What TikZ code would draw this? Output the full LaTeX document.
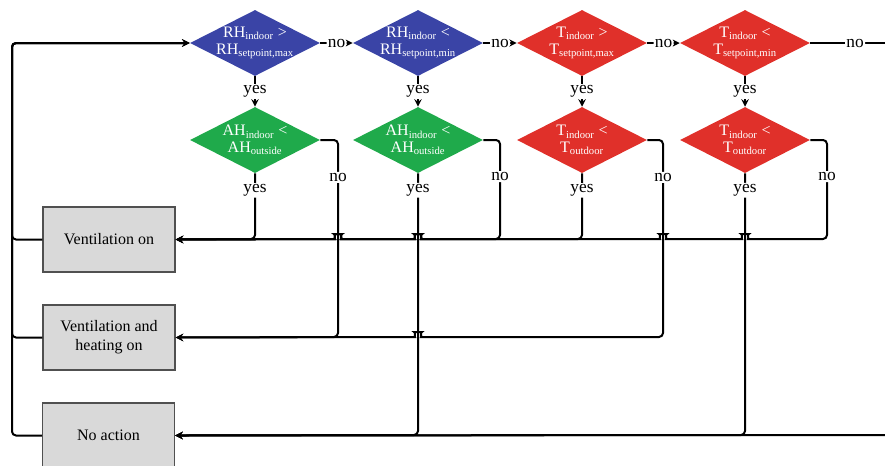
\documentclass[tikz,border=0pt]{standalone}
\usepackage{fontspec}
\setmainfont{Liberation Serif}
\usetikzlibrary{shapes.geometric}
\definecolor{rhblue}{HTML}{3A44A6}
\definecolor{tred}{HTML}{E0302A}
\definecolor{ahgreen}{HTML}{1FAA4B}
\definecolor{boxgray}{HTML}{D9D9D9}
\definecolor{boxline}{HTML}{505050}

\tikzset{
  check/.style={diamond,aspect=1.97,inner sep=-2pt,minimum width=97.5pt,minimum height=49.5pt,
    fill=#1,text=white,align=center,font=\fontsize{12}{12.5}\selectfont},
  actbox/.style={rectangle,draw=boxline,fill=boxgray,line width=1pt,minimum width=99pt,
    minimum height=48.75pt,align=center,font=\fontsize{12}{14}\selectfont},
  flow/.style={line width=1.5pt,rounded corners=3pt},
  lbl/.style={fill=white,inner sep=1pt,font=\fontsize{13}{14}\selectfont}
}
% bump of a line passing over a vertical one at x=#1, y=#2
\newcommand{\hopover}[2]{-- (#1+7,#2) .. controls (#1+4,#2) and (#1+2,#2-5) .. (#1,#2-5)
  .. controls (#1-2,#2-5) and (#1-4,#2) .. (#1-7,#2)}

\begin{document}
\begin{tikzpicture}[x=0.75pt,y=-0.75pt,>=stealth]
  \useasboundingbox (0,0) rectangle (885,465);
  % first row: setpoint checks
  \node[check=rhblue] (rhmax) at (255,43) {RH\textsubscript{indoor} >\\RH\textsubscript{setpoint,max}};
  \node[check=rhblue] (rhmin) at (418,43) {RH\textsubscript{indoor} <\\RH\textsubscript{setpoint,min}};
  \node[check=tred] (tmax) at (582,43) {T\textsubscript{indoor} >\\T\textsubscript{setpoint,max}};
  \node[check=tred] (tmin) at (745,43) {T\textsubscript{indoor} <\\T\textsubscript{setpoint,min}};
  % second row: indoor vs outside
  \node[check=ahgreen] (ahmax) at (255,140) {AH\textsubscript{indoor} <\\AH\textsubscript{outside}};
  \node[check=ahgreen] (ahmin) at (418,140) {AH\textsubscript{indoor} <\\AH\textsubscript{outside}};
  \node[check=tred] (toutmax) at (582,140) {T\textsubscript{indoor} <\\T\textsubscript{outdoor}};
  \node[check=tred] (toutmin) at (745,140) {T\textsubscript{indoor} <\\T\textsubscript{outdoor}};
  % actions
  \node[actbox] (venton) at (109,239.5) {Ventilation on};
  \node[actbox] (ventheat) at (109,337.5) {Ventilation and\\heating on};
  \node[actbox] (noact) at (108.5,435.5) {No action};
  \coordinate (exitno) at (885,43);
  \coordinate (enterna) at (885,435);

  % "no" chain along the top
  \foreach \a/\b in {rhmax/rhmin,rhmin/tmax,tmax/tmin}{\draw[flow,->] (\a.east) -- node[lbl]{no} (\b.west);}
  \draw[flow] (tmin.east) -- node[lbl,pos=0.6]{no} (exitno);
  % "yes" down to the second row
  \foreach \a/\b in {rhmax/ahmax,rhmin/ahmin,tmax/toutmax,tmin/toutmin}{\draw[flow,->] (\a.south) -- node[lbl]{yes} (\b.north);}

  % to ventilation on
  \draw[flow,->] (ahmax.south) -- node[lbl,pos=0.26]{yes} (255,239) -- (venton.east);
  \draw[flow,->] (ahmin.east) -- (500,140) -- node[lbl,pos=0.37]{no} (500,239)
    \hopover{418}{239} \hopover{338}{239} -- (venton.east);
  \draw[flow,->] (toutmax.south) -- node[lbl,pos=0.26]{yes} (582,239)
    \hopover{418}{239} \hopover{338}{239} -- (venton.east);
  \draw[flow,->] (toutmin.east) -- (827,140) -- node[lbl,pos=0.37]{no} (827,239)
    \hopover{745}{239} \hopover{663}{239} \hopover{418}{239} \hopover{338}{239} -- (venton.east);
  % to ventilation and heating on
  \draw[flow,->] (ahmax.east) -- (338,140) -- node[lbl,pos=0.19]{no} (338,337) -- (ventheat.east);
  \draw[flow,->] (toutmax.east) -- (663,140) -- node[lbl,pos=0.19]{no} (663,337)
    \hopover{418}{337} -- (ventheat.east);
  % to no action
  \draw[flow,->] (ahmin.south) -- node[lbl,pos=0.065]{yes} (418,435) -- (noact.east);
  \draw[flow,->] (toutmin.south) -- node[lbl,pos=0.065]{yes} (745,435) -- (noact.east);
  \draw[flow,->] (enterna) -- (noact.east);

  % back to the first check
  \foreach \b in {venton,ventheat,noact}{\draw[flow,->] (\b.west) -| (12,43) -- (rhmax.west);}
\end{tikzpicture}
\end{document}
